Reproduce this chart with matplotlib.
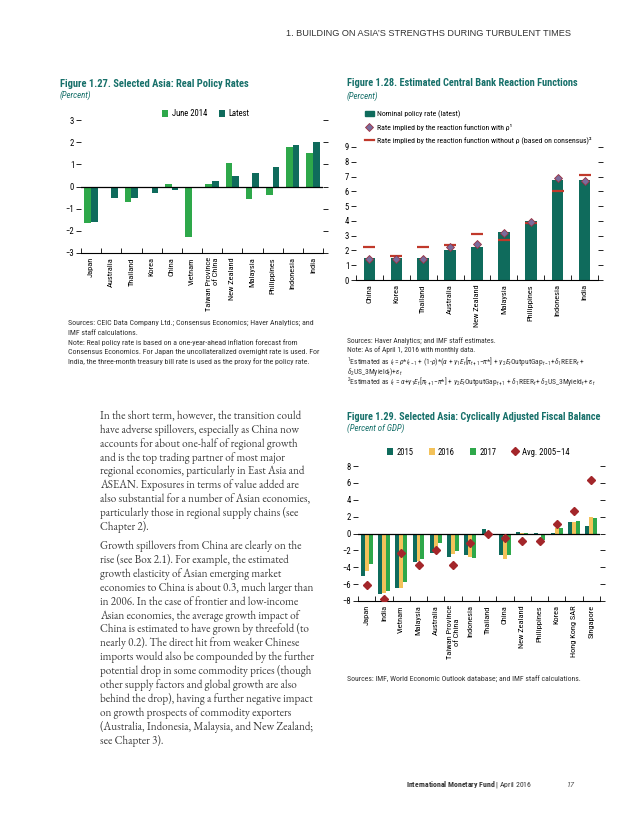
import matplotlib
matplotlib.use('Agg')
import matplotlib.pyplot as plt
from matplotlib import font_manager
from matplotlib.patches import Patch
from matplotlib.lines import Line2D
import numpy as np

W, H = 638, 826


def pick_font(candidates, fallback):
    for name in candidates:
        try:
            font_manager.findfont(name, fallback_to_default=False)
            return name
        except Exception:
            pass
    return fallback


SANS = pick_font(['Roboto Condensed', 'Archivo Narrow', 'PT Sans Narrow',
                  'Fira Sans Condensed', 'IBM Plex Sans Condensed',
                  'Liberation Sans Narrow'], 'Liberation Sans')
SERIF = pick_font(['EB Garamond', 'Cormorant Garamond'], 'Liberation Serif')

plt.rcParams['font.family'] = [SANS, 'DejaVu Sans']
plt.rcParams['mathtext.fontset'] = 'custom'
plt.rcParams['mathtext.rm'] = SANS
plt.rcParams['mathtext.it'] = SANS + ':italic'
plt.rcParams['mathtext.bf'] = SANS + ':bold'

TEAL = '#0f6b5c'
GREEN = '#2ea84a'
YELLOW = '#f3c25a'
DARKRED = '#a3262a'
RED = '#c0392b'
TITLE = '#17706a'
NOTE = '#333333'

# --- Figure 1.27 data ---
rate_countries = ['Japan', 'Australia', 'Thailand', 'Korea', 'China', 'Vietnam',
                  'Taiwan Province\nof China', 'New Zealand', 'Malaysia',
                  'Philippines', 'Indonesia', 'India']
rate_june2014 = [-1.65, -0.08, -0.72, -0.05, 0.1, -2.3, 0.1, 1.05, -0.55, -0.37, 1.8, 1.52]
rate_latest = [-1.6, -0.5, -0.5, -0.3, -0.15, -0.07, 0.25, 0.47, 0.62, 0.9, 1.85, 2.0]

# --- Figure 1.28 data ---
cb_countries = ['China', 'Korea', 'Thailand', 'Australia', 'New Zealand',
                'Malaysia', 'Philippines', 'Indonesia', 'India']
cb_nominal = [1.5, 1.5, 1.5, 2.0, 2.25, 3.25, 4.0, 6.75, 6.75]
cb_with_rho = [1.45, 1.45, 1.45, 2.2, 2.45, 3.2, 3.9, 6.9, 6.7]
cb_without_rho = [2.2, 1.65, 2.2, 2.4, 3.1, 2.7, 3.85, 6.05, 7.1]

# --- Figure 1.29 data ---
fb_countries = ['Japan', 'India', 'Vietnam', 'Malaysia', 'Australia',
                'Taiwan Province\nof China', 'Indonesia', 'Thailand', 'China',
                'New Zealand', 'Philippines', 'Korea', 'Hong Kong SAR', 'Singapore']
fb_2015 = [-5.0, -7.2, -6.5, -3.4, -2.3, -2.8, -2.5, 0.5, -2.5, 0.15, 0.1, 0.05, 1.4, 0.9]
fb_2016 = [-4.5, -7.1, -6.4, -3.2, -2.2, -2.4, -2.8, -0.1, -3.0, 0.05, -0.2, 0.6, 1.4, 2.0]
fb_2017 = [-3.6, -6.8, -5.8, -3.0, -1.1, -2.1, -2.9, -0.2, -2.6, 0.1, -0.75, 0.7, 1.5, 1.85]
fb_avg = [-6.1, -7.8, -2.3, -3.7, -2.0, -3.7, -1.1, -0.1, -0.5, -0.85, -0.85, 1.1, 2.7, 6.3]

body_para1 = [
    "In the short term, however, the transition could",
    "have adverse spillovers, especially as China now",
    "accounts for about one-half of regional growth",
    "and is the top trading partner of most major",
    "regional economies, particularly in East Asia and",
    "ASEAN. Exposures in terms of value added are",
    "also substantial for a number of Asian economies,",
    "particularly those in regional supply chains (see",
    "Chapter 2).",
]
body_para2 = [
    "Growth spillovers from China are clearly on the",
    "rise (see Box 2.1). For example, the estimated",
    "growth elasticity of Asian emerging market",
    "economies to China is about 0.3, much larger than",
    "in 2006. In the case of frontier and low-income",
    "Asian economies, the average growth impact of",
    "China is estimated to have grown by threefold (to",
    "nearly 0.2). The direct hit from weaker Chinese",
    "imports would also be compounded by the further",
    "potential drop in some commodity prices (though",
    "other supply factors and global growth are also",
    "behind the drop), having a further negative impact",
    "on growth prospects of commodity exporters",
    "(Australia, Indonesia, Malaysia, and New Zealand;",
    "see Chapter 3).",
]

fig = plt.figure(figsize=(W / 100, H / 100), dpi=100)
fig.patch.set_facecolor('white')


def px_axes(x0, y0, x1, y1):
    return fig.add_axes([x0 / W, 1 - y1 / H, (x1 - x0) / W, (y1 - y0) / H])


def ftext(x, y, s, **kw):
    kw.setdefault('va', 'center')
    return fig.text(x / W, 1 - y / H, s, **kw)


def style_axes(ax, n, ylim, yticks):
    ax.set_xlim(-0.5, n - 0.5)
    ax.set_ylim(*ylim)
    for side in ['left', 'right', 'top']:
        ax.spines[side].set_visible(False)
    ax.spines['bottom'].set_linewidth(0.8)
    ax.set_yticks(yticks)
    ax.tick_params(axis='y', which='both', left=True, right=True, direction='out',
                   length=3.5, width=0.6, labelsize=6.2, pad=1.5)
    ax.set_xticks(np.arange(n))
    ax.set_xticks(np.arange(n + 1) - 0.5, minor=True)
    ax.tick_params(axis='x', which='major', length=0, labelsize=6, pad=3)
    ax.tick_params(axis='x', which='minor', direction='in', length=3.5, width=0.6)
    ax.patch.set_visible(False)


# ---------------- Figure 1.27 ----------------
ax1 = px_axes(81, 120, 323, 253)
x1 = np.arange(len(rate_countries))
bw1 = 0.33
ax1.bar(x1 - bw1 / 2, rate_june2014, bw1, color=GREEN, label='June 2014')
ax1.bar(x1 + bw1 / 2, rate_latest, bw1, color=TEAL, label='Latest')
ax1.axhline(0, color='black', lw=0.9)
style_axes(ax1, len(rate_countries), (-3, 3), range(-3, 4))
ax1.set_yticklabels(['\u22123', '\u22122', '\u22121', '0', '1', '2', '3'])
ax1.set_xticklabels(rate_countries, rotation=90, va='top', ha='center',
                    multialignment='right')
ax1.legend(loc='center', bbox_to_anchor=(206 / W, 1 - 114 / H),
           bbox_transform=fig.transFigure, ncol=2, frameon=False, fontsize=6.2,
           handlelength=0.7, handleheight=0.7, handletextpad=0.4, columnspacing=1.4)

ftext(60, 84, 'Figure 1.27. Selected Asia: Real Policy Rates', color=TITLE,
      fontsize=7.6, fontweight='bold')
ftext(60, 95, '(Percent)', color=TITLE, fontsize=6.4, style='italic')
notes1 = ["Sources: CEIC Data Company Ltd.; Consensus Economics; Haver Analytics; and",
          "IMF staff calculations.",
          "Note: Real policy rate is based on a one-year-ahead inflation forecast from",
          "Consensus Economics. For Japan the uncollateralized overnight rate is used. For",
          "India, the three-month treasury bill rate is used as the proxy for the policy rate."]
for i, line in enumerate(notes1):
    ftext(68, 323 + i * 9.6, line, fontsize=5.7, color=NOTE)

# ---------------- Figure 1.28 ----------------
ax2 = px_axes(356, 147, 598, 280)
x2 = np.arange(len(cb_countries))
ax2.bar(x2, cb_nominal, 0.43, color=TEAL, zorder=2)
ax2.plot(x2, cb_without_rho, ls='none', marker='_', ms=9, mew=1.6, color=RED, zorder=3)
ax2.plot(x2, cb_with_rho, ls='none', marker='D', ms=4.2, mfc='#7a6c9c',
         mec='#9c3040', mew=0.6, zorder=4)
style_axes(ax2, len(cb_countries), (0, 9), range(0, 10))
ax2.set_xticklabels(cb_countries, rotation=90, va='top', ha='center')
handles2 = [Patch(color=TEAL),
            Line2D([], [], ls='none', marker='D', ms=4.2, mfc='#7a6c9c', mec='#9c3040', mew=0.6),
            Line2D([], [], color=RED, lw=1.6)]
labels2 = ['Nominal policy rate (latest)',
           'Rate implied by the reaction function with \u03c1\u00b9',
           'Rate implied by the reaction function without \u03c1 (based on consensus)\u00b2']
ax2.legend(handles2, labels2, loc='upper left', bbox_to_anchor=(365 / W, 1 - 110 / H),
           bbox_transform=fig.transFigure, frameon=False, fontsize=5.6,
           handlelength=1.1, handleheight=0.7, handletextpad=0.5, labelspacing=0.75,
           borderpad=0, borderaxespad=0)

ftext(347, 83, 'Figure 1.28. Estimated Central Bank Reaction Functions', color=TITLE,
      fontsize=7.45, fontweight='bold')
ftext(347, 96, '(Percent)', color=TITLE, fontsize=6.4, style='italic')
notes2 = ["Sources: Haver Analytics; and IMF staff estimates.",
          "Note: As of April 1, 2016 with monthly data.",
          r"$^{1}$Estimated as $i_t = \rho$*$i_{t-1}$ + (1-$\rho$)*($\alpha$ + $\gamma_1$$E_t$[$\pi_{t+1}$$-\pi$*] + $\gamma_2$$E_t$OutputGap$_{t-1}$+$\delta_1$REER$_t$ +",
          r"$\delta_2$US_3Myield$_t$)+$\varepsilon_t$",
          r"$^{2}$Estimated as $i_t$ = $\alpha$+$\gamma_1$$E_t$[$\pi_{t+1}$$-\pi$*] + $\gamma_2$$E_t$OutputGap$_{t+1}$ + $\delta_1$REER$_t$+ $\delta_2$US_3Myield$_t$+ $\varepsilon_t$"]
for y, line in zip([341, 350.5, 361, 371.5, 382], notes2):
    ftext(347, y, line, fontsize=5.4, color=NOTE)

# ---------------- Figure 1.29 ----------------
ax3 = px_axes(358, 466, 600, 601)
x3 = np.arange(len(fb_countries))
bw3 = 0.23
b15 = ax3.bar(x3 - bw3, fb_2015, bw3, color=TEAL, zorder=2)
b16 = ax3.bar(x3, fb_2016, bw3, color=YELLOW, zorder=2)
b17 = ax3.bar(x3 + bw3, fb_2017, bw3, color=GREEN, zorder=2)
avg, = ax3.plot(x3, fb_avg, ls='none', marker='D', ms=4.3, color=DARKRED, zorder=4)
ax3.axhline(0, color='black', lw=0.9, zorder=3)
style_axes(ax3, len(fb_countries), (-8, 8), range(-8, 9, 2))
ax3.set_yticklabels(['\u22128', '\u22126', '\u22124', '\u22122', '0', '2', '4', '6', '8'])
ax3.set_xticklabels(fb_countries, rotation=90, va='top', ha='center')
ax3.legend([b15, b16, b17, avg], ['2015', '2016', '2017', 'Avg. 2005\u201314'],
           loc='center', bbox_to_anchor=(478 / W, 1 - 452 / H),
           bbox_transform=fig.transFigure, ncol=4, frameon=False, fontsize=6.2,
           handlelength=0.7, handleheight=0.7, handletextpad=0.4, columnspacing=1.8)

ftext(347, 417, 'Figure 1.29. Selected Asia: Cyclically Adjusted Fiscal Balance',
      color=TITLE, fontsize=7.4, fontweight='bold')
ftext(347, 428, '(Percent of GDP)', color=TITLE, fontsize=6.4, style='italic')
ftext(347, 679, 'Sources: IMF, World Economic Outlook database; and IMF staff calculations.',
      fontsize=5.6, color=NOTE)

# ---------------- page text ----------------
ftext(571, 33, "1. BUILDING ON ASIA\u2019S STRENGTHS DURING TURBULENT TIMES",
      ha='right', fontsize=6.6, color='#333333', family='Liberation Sans')

y = 416
for line in body_para1:
    ftext(100, y, line, family=SERIF, fontsize=8, color='#3a3a3a')
    y += 13.9
y += 5
for line in body_para2:
    ftext(100, y, line, family=SERIF, fontsize=8, color='#3a3a3a')
    y += 13.9

ftext(532, 785, r'$\mathbf{International\ Monetary\ Fund}$ | April 2016', ha='right',
      fontsize=5.6, color='#333333')
ftext(566, 785, '17', fontsize=6, color='#555555', style='italic')

fig.savefig('out.png', dpi=100)
